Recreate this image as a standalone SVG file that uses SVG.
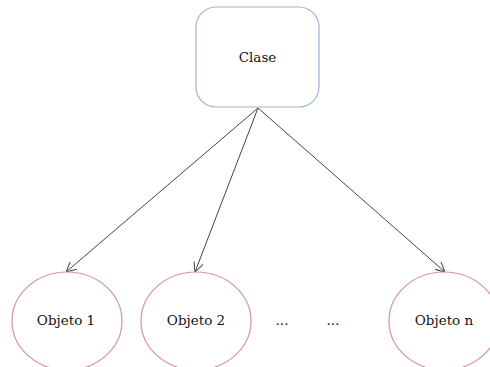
<svg xmlns="http://www.w3.org/2000/svg" width="490" height="367" viewBox="0 0 490 367">
  <style>
    .lbl { font-family: "DejaVu Serif", "Liberation Serif", serif; font-size: 13.5px; fill: #111; text-anchor: middle; }
    .obj { fill: #fff; stroke: #d49696; stroke-width: 1.2; }
    .cls { fill: #fff; stroke: #9ab3d6; stroke-width: 1.2; }
    .link { stroke: #444; stroke-width: 1; fill: none; marker-end: url(#arrow); }
  </style>
  <defs>
    <marker id="arrow" viewBox="0 0 10 10" refX="10" refY="5" markerWidth="10" markerHeight="10" markerUnits="userSpaceOnUse" orient="auto">
      <path d="M0,0 L10,5 L0,10" fill="none" stroke="#444" stroke-width="1"/>
    </marker>
  </defs>
  <rect width="490" height="367" fill="#fff"/>
  <g id="connectors">
    <line class="link" x1="258" y1="108" x2="66" y2="272"/>
    <line class="link" x1="258" y1="108" x2="195" y2="272"/>
    <line class="link" x1="258" y1="108" x2="445" y2="272"/>
  </g>
  <g id="clase">
    <rect class="cls" x="196" y="7" width="123" height="100" rx="20" ry="20"/>
    <text class="lbl" x="257.5" y="62">Clase</text>
  </g>
  <g id="objeto1">
    <ellipse class="obj" cx="67" cy="321" rx="55" ry="49"/>
    <text class="lbl" x="66" y="325">Objeto 1</text>
  </g>
  <g id="objeto2">
    <ellipse class="obj" cx="196" cy="321" rx="55" ry="49"/>
    <text class="lbl" x="196" y="325">Objeto 2</text>
  </g>
  <g id="dots">
    <text class="lbl" x="282" y="325">...</text>
    <text class="lbl" x="333" y="325">...</text>
  </g>
  <g id="objeton">
    <ellipse class="obj" cx="444" cy="321" rx="55" ry="49"/>
    <text class="lbl" x="444" y="325">Objeto n</text>
  </g>
</svg>
